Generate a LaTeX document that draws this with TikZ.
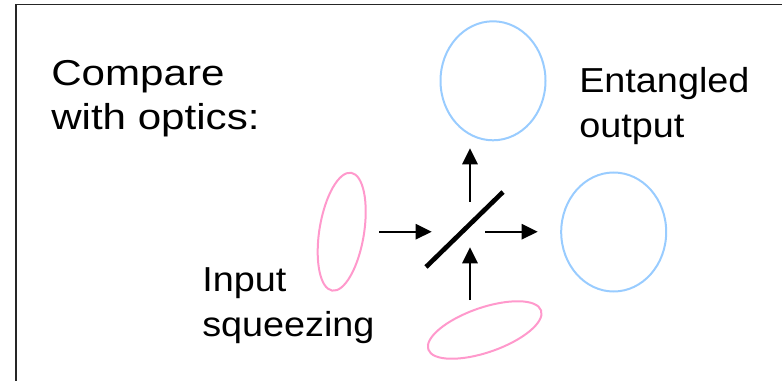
\documentclass[tikz,border=0pt]{standalone}
\usepackage{fontspec}
\setmainfont{Liberation Sans}
\newfontfamily\titlefont{Liberation Sans}[FakeStretch=1.17]
\newfontfamily\labelfont{Liberation Sans}[FakeStretch=1.09]
\usetikzlibrary{shapes.geometric,arrows.meta}

\definecolor{squeezepink}{RGB}{255,153,204}
\definecolor{outblue}{RGB}{153,204,255}

\tikzset{
  frameline/.style={draw=black!85, line width=0.9pt},
  state/.style={ellipse, draw, line width=1.5pt, inner sep=0pt, outer sep=0pt},
  instate/.style={state, draw=squeezepink, minimum width=33.5pt, minimum height=89.5pt},
  outstate/.style={state, draw=outblue, minimum width=78.75pt, minimum height=89.25pt},
  beam/.style={line width=1.45pt, -{Triangle[length=12pt,width=11.5pt]}},
  splitter/.style={line width=3.5pt},
  bigtext/.style={font=\titlefont\fontsize{27pt}{32.6pt}\selectfont, align=left, anchor=north west, inner sep=0pt},
  smalltext/.style={font=\labelfont\fontsize{26pt}{33.4pt}\selectfont, align=left, anchor=north west, inner sep=0pt}
}

\begin{document}
\begin{tikzpicture}[x=0.75pt,y=-0.75pt]
  \useasboundingbox (0,0) rectangle (782,381);

  % slide frame (only its top and left edges fall inside)
  \coordinate (fcorner) at (16,4.7);
  \coordinate (fright) at (782,4.7);
  \coordinate (fbottom) at (16,381);
  \draw[frameline] (fbottom) -- (fcorner) -- (fright);

  % labels
  \node[bigtext] (title) at (51,60.5) {Compare\\with optics:};
  \node[smalltext] (outlabel) at (579,67.5) {Entangled\\output};
  \node[smalltext] (inlabel) at (202,267.7) {Input\\squeezing};

  % squeezed input states
  \node[instate, rotate=-9.2] (inleft) at (341.7,231.7) {};
  \node[instate, rotate=-70.9] (inbottom) at (484.7,330) {};

  % entangled output states
  \node[outstate] (outtop) at (493,80.8) {};
  \node[outstate] (outright) at (613.7,232) {};

  % beam splitter
  \coordinate (bsA) at (426,267);
  \coordinate (bsB) at (503,192);
  \draw[splitter] (bsA) -- (bsB);

  % beams
  \coordinate (inLs) at (379.3,231.7);
  \coordinate (inLe) at (431.7,231.7);
  \coordinate (inBs) at (470,300);
  \coordinate (inBe) at (470,247.3);
  \coordinate (outRs) at (485.3,231.7);
  \coordinate (outRe) at (537.7,231.7);
  \coordinate (outTs) at (470,201.7);
  \coordinate (outTe) at (470,148.3);
  \draw[beam] (inLs) -- (inLe);
  \draw[beam] (inBs) -- (inBe);
  \draw[beam] (outRs) -- (outRe);
  \draw[beam] (outTs) -- (outTe);
\end{tikzpicture}
\end{document}
